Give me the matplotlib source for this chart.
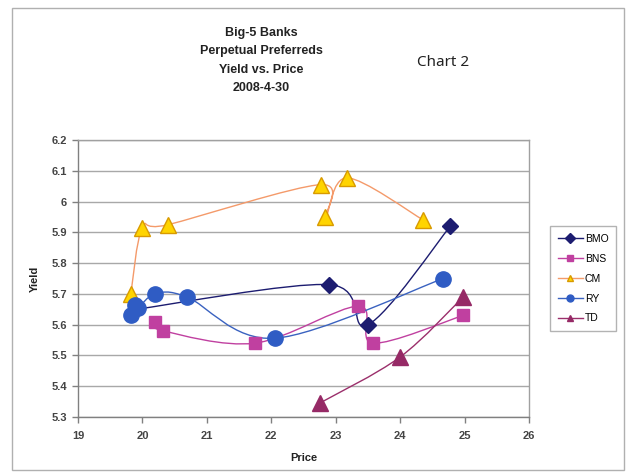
import numpy as np
import matplotlib
matplotlib.use("Agg")
import matplotlib.pyplot as plt
from matplotlib.path import Path
from matplotlib.patches import PathPatch, Rectangle
from matplotlib.lines import Line2D

# ---- data ----
series_names = ["BMO", "BNS", "CM", "RY", "TD"]
bmo_price = [19.9, 22.9, 23.5, 24.78]
bmo_yield = [5.65, 5.73, 5.60, 5.92]
bns_price = [20.2, 20.32, 21.75, 23.35, 23.58, 24.98]
bns_yield = [5.61, 5.58, 5.54, 5.66, 5.54, 5.63]
cm_price = [19.82, 20.0, 20.4, 22.77, 22.84, 23.18, 24.36]
cm_yield = [5.70, 5.915, 5.925, 6.055, 5.95, 6.077, 5.94]
ry_price = [19.82, 19.88, 19.93, 20.2, 20.69, 22.06, 24.67]
ry_yield = [5.63, 5.665, 5.655, 5.70, 5.69, 5.556, 5.75]
td_price = [22.76, 24.0, 24.98]
td_yield = [5.346, 5.495, 5.69]

title_lines = ["Big-5 Banks", "Perpetual Preferreds", "Yield vs. Price", "2008-4-30"]
x_ticks = [19, 20, 21, 22, 23, 24, 25, 26]
y_ticks = [5.3, 5.4, 5.5, 5.6, 5.7, 5.8, 5.9, 6.0, 6.1, 6.2]
y_ticklabels = ["5.3", "5.4", "5.5", "5.6", "5.7", "5.8", "5.9", "6", "6.1", "6.2"]

styles = {
    "BMO": dict(line="#1c1c70", marker="D", face="#1c1c70", edge="#1c1c70", ms=8.5),
    "BNS": dict(line="#c040a0", marker="s", face="#c040a0", edge="#c040a0", ms=9),
    "CM":  dict(line="#f49a6a", marker="^", face="#ffd400", edge="#d89a00", ms=11),
    "RY":  dict(line="#3a62c0", marker="o", face="#2f5cc4", edge="#2f5cc4", ms=11),
    "TD":  dict(line="#9b2f6b", marker="^", face="#962a66", edge="#962a66", ms=11),
}
data = {
    "BMO": (bmo_price, bmo_yield),
    "BNS": (bns_price, bns_yield),
    "CM": (cm_price, cm_yield),
    "RY": (ry_price, ry_yield),
    "TD": (td_price, td_yield),
}

plt.rcParams["font.family"] = ["Liberation Sans", "DejaVu Sans"]

fig = plt.figure(figsize=(6.28, 4.74), dpi=100)
fig.patch.set_facecolor("white")
fig.add_artist(Rectangle((12 / 628, 1 - 470 / 474), 612 / 628, 462 / 474,
                         transform=fig.transFigure, fill=False,
                         edgecolor="#b0b0b0", linewidth=1.0))

ax = fig.add_axes([78 / 628, 57 / 474, 451 / 628, 277 / 474])
ax.set_xlim(19, 26)
ax.set_ylim(5.3, 6.2)


def smooth_path(xs, ys):
    pts = np.column_stack([xs, ys]).astype(float)
    n = len(pts)
    verts = [pts[0]]
    codes = [Path.MOVETO]
    for i in range(n - 1):
        p0 = pts[i - 1] if i > 0 else pts[i]
        p1 = pts[i]
        p2 = pts[i + 1]
        p3 = pts[i + 2] if i + 2 < n else pts[i + 1]
        c1 = p1 + (p2 - p0) / 6.0
        c2 = p2 - (p3 - p1) / 6.0
        verts += [c1, c2, p2]
        codes += [Path.CURVE4] * 3
    return Path(verts, codes)


handles = []
for name in series_names:
    xs, ys = data[name]
    st = styles[name]
    patch = PathPatch(smooth_path(xs, ys), facecolor="none", edgecolor=st["line"],
                      linewidth=1.0, zorder=3)
    ax.add_patch(patch)
    ax.plot(xs, ys, linestyle="none", marker=st["marker"], markersize=st["ms"],
            markerfacecolor=st["face"], markeredgecolor=st["edge"], zorder=4)
    handles.append(Line2D([], [], color=st["line"], linewidth=1.0, marker=st["marker"],
                          markersize=5, markerfacecolor=st["face"],
                          markeredgecolor=st["edge"], label=name))

ax.set_xticks(x_ticks)
ax.set_yticks(y_ticks)
ax.set_yticklabels(y_ticklabels)
ax.grid(axis="y", color="#a8a8a8", linewidth=1.0)
ax.set_axisbelow(True)
for s in ax.spines.values():
    s.set_color("#a0a0a0")
    s.set_linewidth(1.0)
ax.spines["left"].set_color("#808080")
ax.spines["bottom"].set_color("#808080")
ax.tick_params(axis="both", labelsize=8, colors="#808080", labelcolor="#444444",
               length=4, width=1, direction="out")
for lab in ax.get_xticklabels() + ax.get_yticklabels():
    lab.set_fontweight("bold")
ax.tick_params(axis="x", pad=6)
ax.tick_params(axis="y", pad=4)

ax.set_xlabel("Price", fontsize=8, fontweight="bold", color="#222222", labelpad=9)
ax.set_ylabel("Yield", fontsize=8, fontweight="bold", color="#222222", labelpad=8)

for i, line in enumerate(title_lines):
    fig.text(261 / 628, 1 - (33 + i * 18.3) / 474, line, ha="center", va="center",
             fontsize=9, fontweight="bold", color="#222222")
fig.text(443 / 628, 1 - 62 / 474, "Chart 2", ha="center", va="center",
         fontsize=11, color="#222222", family=["Noto Sans", "DejaVu Sans"])

leg = fig.legend(handles=handles, loc="upper left",
                 bbox_to_anchor=(550 / 628, 1 - 226 / 474),
                 frameon=True, fancybox=False, fontsize=7.5, handlelength=2.4,
                 handletextpad=0.2, labelspacing=0.95, borderpad=0.75,
                 borderaxespad=0)
leg.get_frame().set_edgecolor("#a0a0a0")
leg.get_frame().set_linewidth(1.0)

fig.savefig("out.png", dpi=100)
